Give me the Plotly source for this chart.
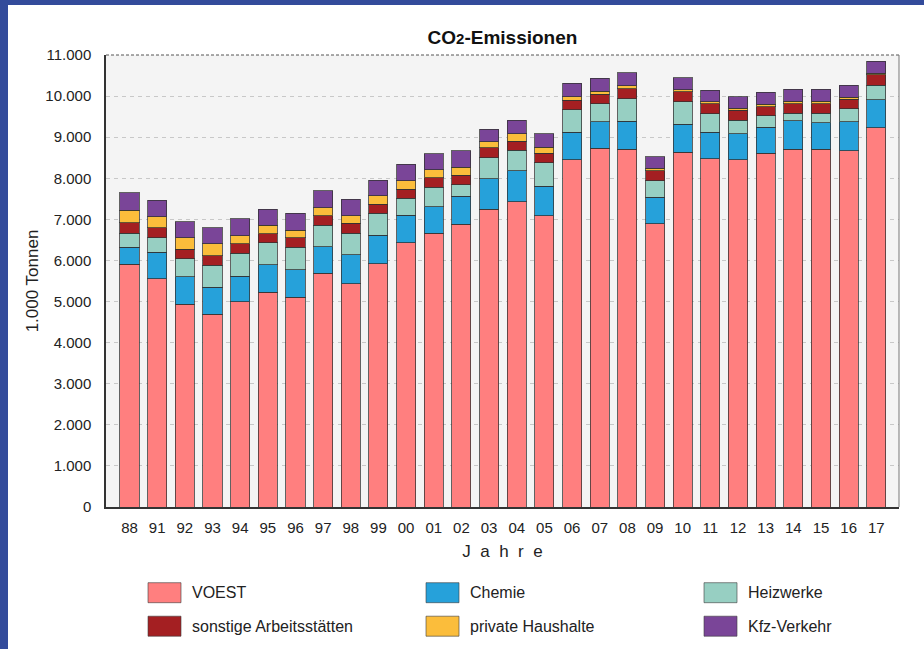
import plotly.graph_objects as go

years = ["88", "91", "92", "93", "94", "95", "96", "97", "98", "99",
         "00", "01", "02", "03", "04", "05", "06", "07", "08", "09",
         "10", "11", "12", "13", "14", "15", "16", "17"]

voest = [5907, 5557, 4932, 4697, 4997, 5232, 5103, 5687, 5435, 5922,
         6433, 6660, 6887, 7244, 7423, 7090, 8453, 8729, 8705, 6896,
         8632, 8477, 8453, 8607, 8705, 8705, 8672, 9224]
chemie = [413, 641, 666, 657, 617, 658, 673, 649, 698, 690,
          673, 649, 674, 739, 762, 722, 673, 641, 681, 640,
          681, 649, 625, 633, 689, 649, 698, 689]
heizwerke = [341, 357, 438, 527, 559, 543, 544, 519, 535, 535,
             406, 471, 284, 511, 495, 568, 536, 438, 552, 398,
             552, 447, 340, 276, 187, 227, 316, 357]
sonstige = [251, 235, 235, 236, 236, 219, 227, 227, 236, 227,
            227, 227, 227, 243, 227, 235, 235, 243, 243, 251,
            235, 235, 236, 227, 227, 227, 236, 244]
private = [309, 276, 276, 284, 194, 203, 194, 203, 186, 195,
           195, 195, 194, 146, 179, 146, 81, 65, 65, 57,
           57, 57, 56, 57, 65, 65, 48, 48]
kfz = [429, 397, 397, 389, 414, 389, 406, 406, 398, 389,
       406, 397, 398, 316, 324, 325, 333, 316, 324, 284,
       284, 275, 276, 292, 292, 292, 292, 284]

series_names = ["VOEST", "Chemie", "Heizwerke", "sonstige Arbeitsstätten",
                "private Haushalte", "Kfz-Verkehr"]
series_values = [voest, chemie, heizwerke, sonstige, private, kfz]
series_colors = ["#FF7F7F", "#26A1DA", "#97CFC2", "#A41F22", "#FBBD3B", "#7A4598"]

y_tickvals = list(range(0, 11001, 1000))
y_ticktext = ["0", "1.000", "2.000", "3.000", "4.000", "5.000", "6.000",
              "7.000", "8.000", "9.000", "10.000", "11.000"]

FONT = "Liberation Sans, Arial, Helvetica, sans-serif"

fig = go.Figure()
for name, vals, col in zip(series_names, series_values, series_colors):
    fig.add_trace(go.Bar(
        x=years, y=vals, name=name,
        marker=dict(color=col, line=dict(color="rgba(50,50,50,0.75)", width=1)),
        showlegend=False,
    ))

shapes = []
annotations = []

# blue frame bands
shapes.append(dict(type="rect", xref="paper", yref="paper", x0=-106/793, x1=(924-106)/793,
                   y0=1 + 50/452, y1=1 + 56/452, fillcolor="#334B9B", line=dict(width=0), layer="above"))
shapes.append(dict(type="rect", xref="paper", yref="paper", x0=-106/793, x1=-98/793,
                   y0=-142/452, y1=1 + 56/452, fillcolor="#334B9B", line=dict(width=0), layer="above"))
# top dashed border and right border
shapes.append(dict(type="line", xref="paper", yref="paper", x0=0, x1=1, y0=1, y1=1,
                   line=dict(color="#555555", width=1, dash="3px,2px"), layer="above"))
shapes.append(dict(type="line", xref="paper", yref="paper", x0=1, x1=1, y0=0, y1=1,
                   line=dict(color="#777777", width=1), layer="above"))

# manual legend (3 columns x 2 rows)
col_left = [148, 426, 704]
row_center = [592.7, 626.2]
for i, (name, col) in enumerate(zip(series_names, series_colors)):
    r, c = divmod(i, 3)
    x0 = col_left[c]
    yc = row_center[r]
    shapes.append(dict(type="rect", xref="paper", yref="paper",
                       x0=(x0 - 106) / 793, x1=(x0 + 33 - 106) / 793,
                       y0=(507 - (yc + 10)) / 452, y1=(507 - (yc - 10)) / 452,
                       fillcolor=col, line=dict(color="rgba(60,60,60,0.6)", width=1)))
    annotations.append(dict(text=name, xref="paper", yref="paper",
                            x=(x0 + 42 - 106) / 793, y=(507 - yc) / 452,
                            xanchor="left", yanchor="middle", showarrow=False,
                            font=dict(family=FONT, size=16, color="#222222")))

fig.update_layout(
    width=924, height=649,
    margin=dict(l=106, r=25, t=55, b=142),
    paper_bgcolor="white",
    plot_bgcolor="#F4F4F4",
    barmode="stack",
    bargap=0.31,
    font=dict(family=FONT, color="#222222"),
    title=dict(text="<b>CO<span style='font-size:15px'>2</span>-Emissionen</b>",
               x=(502.5) / 924, xanchor="center", y=1 - 37 / 649, yanchor="middle",
               font=dict(family=FONT, size=19, color="#111111")),
    xaxis=dict(
        type="category", range=[-0.85, 27.82],
        showline=True, linecolor="#333333", linewidth=1.5,
        showgrid=False, ticks="", ticklabelstandoff=6,
        tickfont=dict(family=FONT, size=15, color="#222222"),
        title=dict(text="J&#160; a&#160; h&#160; r&#160; e", standoff=10,
                   font=dict(family=FONT, size=17, color="#222222")),
    ),
    yaxis=dict(
        range=[0, 11000], tickvals=y_tickvals, ticktext=y_ticktext,
        showline=True, linecolor="#333333", linewidth=1.5,
        showgrid=True, gridcolor="#C8C8C8", griddash="4px,4px", gridwidth=1,
        zeroline=False, ticks="", ticklabelstandoff=10,
        tickfont=dict(family=FONT, size=15, color="#222222"),
        title=dict(text="1.000 Tonnen", standoff=2,
                   font=dict(family=FONT, size=17, color="#222222")),
    ),
    shapes=shapes,
    annotations=annotations,
)

fig.write_html("out.html", config={"displayModeBar": False},
               post_script="document.body.style.margin='0';")
